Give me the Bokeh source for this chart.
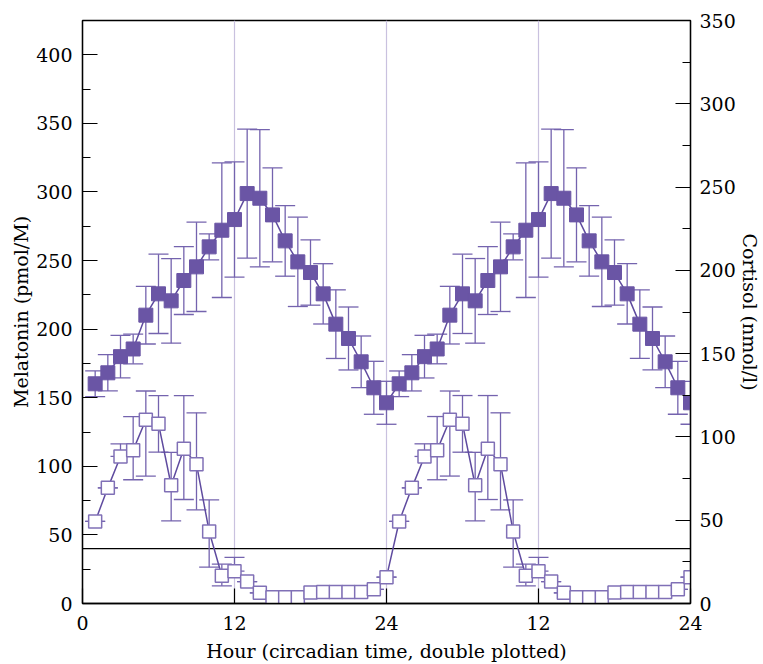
from bokeh.plotting import figure
from bokeh.models import (Range1d, LinearAxis, FixedTicker, Span, Whisker,
                          TeeHead, ColumnDataSource)
from bokeh.embed import file_html
from bokeh.resources import INLINE

# ---- data (one circadian day; double plotted) ----
hours_day = list(range(1, 25))
melatonin = [59.8, 84.3, 107.2, 111.8, 133.9, 131.0, 86.2, 112.8, 101.6, 52.5,
             20.2, 23.6, 16.0, 7.8, 4.6, 4.6, 4.6, 8.0, 8.3, 8.3, 8.3, 8.3,
             10.3, 19.2]
melatonin_err_up = [0, 0, 9.2, 24.5, 21.0, 20.6, 24.0, 38.8, 37.4, 23.0,
                    8.5, 10.0, 0, 0, 0, 0, 0, 0, 0, 0, 0, 0, 0, 0]
melatonin_err_dn = [0, 0, 0, 21.6, 41.0, 20.7, 26.0, 37.0, 33.3, 26.0,
                    7.3, 0, 0, 0, 0, 0, 0, 0, 0, 0, 0, 0, 0, 0]
cortisol = [131.9, 138.5, 148.2, 152.8, 173.1, 185.9, 181.7, 193.9, 202.1,
            214.1, 224.1, 230.5, 246.1, 243.3, 233.3, 217.7, 205.1, 198.7,
            185.9, 167.7, 159.1, 145.1, 129.5, 120.5]
cortisol_sd = [7.7, 10.9, 12.8, 8.9, 17.3, 23.8, 25.4, 20.4, 26.8, 7.8, 40.4,
               34.6, 38.7, 41.2, 28.2, 21.2, 26.8, 19.6, 18.1, 20.6, 18.9,
               15.5, 15.9, 12.9]
x_ticks = [0, 12, 24, 36, 48]
x_tick_labels = ["0", "12", "24", "12", "24"]
mel_ticks = [0, 50, 100, 150, 200, 250, 300, 350, 400]
cort_ticks = [0, 50, 100, 150, 200, 250, 300, 350]
threshold = 40

# double plotting
hours = hours_day + [h + 24 for h in hours_day]
mel2 = melatonin + melatonin
mel_up2 = melatonin_err_up + melatonin_err_up
mel_dn2 = melatonin_err_dn + melatonin_err_dn
cort2 = cortisol + cortisol
csd2 = cortisol_sd + cortisol_sd

mel_src = ColumnDataSource(dict(
    x=hours, y=mel2,
    upper=[v + u for v, u in zip(mel2, mel_up2)],
    lower=[v - d for v, d in zip(mel2, mel_dn2)]))
cort_src = ColumnDataSource(dict(
    x=hours, y=cort2,
    upper=[v + s for v, s in zip(cort2, csd2)],
    lower=[v - s for v, s in zip(cort2, csd2)]))

FONT = "DejaVu Serif"
PURPLE = "#6a55a5"
LINE = "#5f4b9f"
BAR = "#7463ae"
OPEN = "#8070b6"

p = figure(width=763, height=664, output_backend="svg", toolbar_location=None,
           x_range=Range1d(0, 48), y_range=Range1d(0, 425),
           min_border_left=82, min_border_right=72, min_border_top=20,
           min_border_bottom=61)
p.extra_y_ranges = {"cort": Range1d(0, 350)}
p.xgrid.visible = False
p.ygrid.visible = False
p.outline_line_color = "black"
p.outline_line_width = 1.3
p.background_fill_color = "white"
p.border_fill_color = "white"

# vertical day markers
for xv in [12, 24, 36]:
    p.add_layout(Span(location=xv, dimension="height", line_color="#c9c1df",
                      line_width=1.2, level="underlay"))
p.add_layout(Span(location=threshold, dimension="width", line_color="black",
                  line_width=1.3, level="underlay"))

# error bars
wc = Whisker(source=cort_src, base="x", upper="upper", lower="lower",
             dimension="height", line_color=BAR, line_width=1.3,
             y_range_name="cort", level="underlay",
             upper_head=TeeHead(size=20, line_color=BAR, line_width=1.3),
             lower_head=TeeHead(size=20, line_color=BAR, line_width=1.3))
p.add_layout(wc)
wm = Whisker(source=mel_src, base="x", upper="upper", lower="lower",
             dimension="height", line_color=BAR, line_width=1.3,
             level="underlay",
             upper_head=TeeHead(size=20, line_color=BAR, line_width=1.3),
             lower_head=TeeHead(size=20, line_color=BAR, line_width=1.3))
p.add_layout(wm)

# series
p.line("x", "y", source=cort_src, y_range_name="cort", line_color=LINE,
       line_width=1.5)
p.scatter("x", "y", source=cort_src, y_range_name="cort", marker="square",
          size=14, fill_color=PURPLE, line_color=PURPLE, line_width=1)
p.line("x", "y", source=mel_src, line_color=LINE, line_width=1.5)
p.scatter("x", "y", source=mel_src, marker="square", size=13,
          fill_color="white", line_color=OPEN, line_width=1.5)

# axes
def style(ax, label, lab_standoff=10, ax_standoff=5):
    ax.axis_label = label
    ax.axis_label_text_font = FONT
    ax.axis_label_text_font_size = "19px"
    ax.axis_label_text_font_style = "normal"
    ax.axis_label_text_color = "black"
    ax.major_label_text_font = FONT
    ax.major_label_text_font_size = "19px"
    ax.major_label_text_color = "black"
    ax.axis_line_color = "black"
    ax.axis_line_width = 1.3
    ax.major_tick_line_color = "black"
    ax.minor_tick_line_color = "black"
    ax.major_tick_line_width = 1.2
    ax.minor_tick_line_width = 1.0
    ax.major_tick_in = 15
    ax.major_tick_out = 0
    ax.minor_tick_in = 8
    ax.minor_tick_out = 0
    ax.major_label_standoff = lab_standoff
    ax.axis_label_standoff = ax_standoff

xa = p.xaxis[0]
style(xa, "Hour (circadian time, double plotted)", 12, 7)
xa.ticker = FixedTicker(ticks=x_ticks, minor_ticks=[])
xa.major_label_overrides = {t: l for t, l in zip(x_ticks, x_tick_labels)}

ya = p.yaxis[0]
style(ya, "Melatonin (pmol/M)", 10, 1)
ya.ticker = FixedTicker(ticks=mel_ticks,
                        minor_ticks=[t + 25 for t in mel_ticks])

ra = LinearAxis(y_range_name="cort")
style(ra, "Cortisol (nmol/l)", 9, 0)
ra.ticker = FixedTicker(ticks=cort_ticks,
                        minor_ticks=[t + 25 for t in cort_ticks[:-1]])
p.add_layout(ra, "right")

open("out.html", "w").write(file_html(p, INLINE))
